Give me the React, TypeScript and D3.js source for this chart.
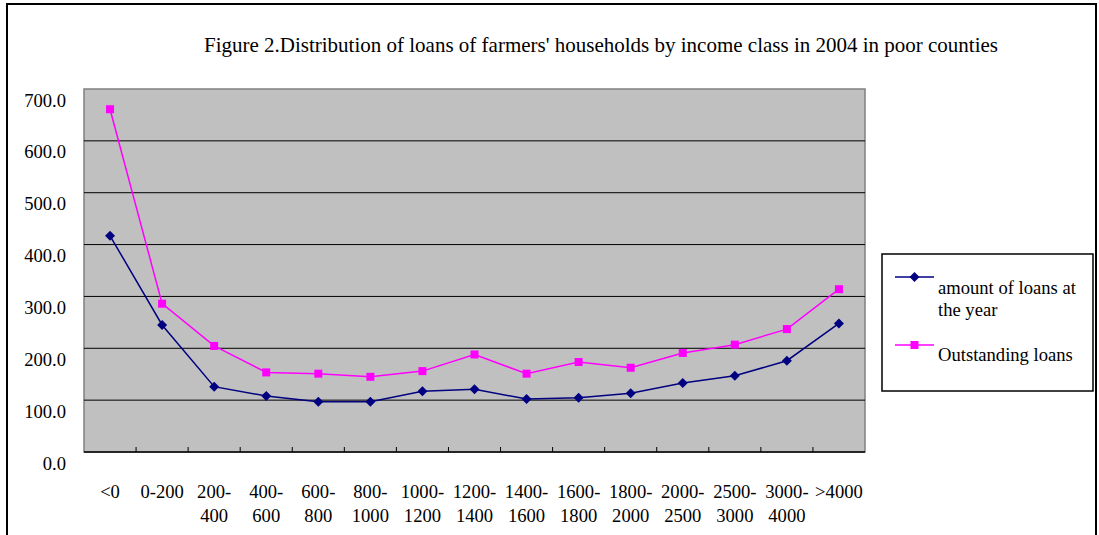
import * as d3 from "d3";

const categories = [
  ["<0"], ["0-200"], ["200-", "400"], ["400-", "600"], ["600-", "800"], ["800-", "1000"],
  ["1000-", "1200"], ["1200-", "1400"], ["1400-", "1600"], ["1600-", "1800"], ["1800-", "2000"],
  ["2000-", "2500"], ["2500-", "3000"], ["3000-", "4000"], [">4000"],
];
const amountOfLoans = [417, 245, 126, 108, 97, 97, 117, 121, 102, 104.5, 113.5, 133, 147, 176, 248];
const outstandingLoans = [661, 286, 204.5, 153.5, 151, 145, 156, 188, 151, 173.5, 162.5, 191, 207, 237, 314];
const yTicks = [0, 100, 200, 300, 400, 500, 600, 700];

const W = 1099;
const H = 535;
const plot = { left: 84, right: 865, top: 89, bottom: 452 };
const font = "'Liberation Serif', 'Times New Roman', serif";
const blue = "#000080";
const pink = "#ff00ff";
const labelSize = 18.6;

export default function App() {
  const x = d3
    .scaleBand<number>()
    .domain(d3.range(categories.length))
    .range([plot.left, plot.right]);
  const y = d3.scaleLinear().domain([0, 700]).range([plot.bottom, plot.top]);
  const cx = (i: number) => (x(i) ?? 0) + x.bandwidth() / 2;

  const line = d3
    .line<number>()
    .x((_, i) => cx(i))
    .y((d) => y(d));

  const diamond = (px: number, py: number, r: number) =>
    `M${px},${py - r}L${px + r},${py}L${px},${py + r}L${px - r},${py}Z`;

  return (
    <svg
      width={W}
      height={H}
      style={{ position: "absolute", left: 0, top: 0, background: "#fff" }}
      fontFamily={font}
    >
      <rect x={7} y={4} width={1089} height={H + 10} fill="#fff" stroke="#000" strokeWidth={2} />

      <text x={601} y={52} textAnchor="middle" fontSize={21}>
        Figure 2.Distribution of loans of farmers' households by income class in 2004 in poor counties
      </text>

      <rect
        x={plot.left}
        y={plot.top}
        width={plot.right - plot.left}
        height={plot.bottom - plot.top}
        fill="#c0c0c0"
        stroke="#808080"
        strokeWidth={1.5}
      />

      {yTicks.map((t) => (
        <g key={t}>
          {t > 0 && t < 700 && (
            <line x1={plot.left} x2={plot.right} y1={y(t)} y2={y(t)} stroke="#000" strokeWidth={1} />
          )}
          <text x={66} y={y(t) + 17.5} textAnchor="end" fontSize={labelSize}>
            {t.toFixed(1)}
          </text>
        </g>
      ))}

      <line x1={plot.left} x2={plot.right} y1={plot.bottom} y2={plot.bottom} stroke="#000" strokeWidth={1.5} />
      {d3.range(1, categories.length).map((i) => (
        <line
          key={i}
          x1={x(i)}
          x2={x(i)}
          y1={plot.bottom}
          y2={plot.bottom - 5}
          stroke="#000"
          strokeWidth={1}
        />
      ))}

      {categories.map((lines, i) =>
        lines.map((l, j) => (
          <text key={`${i}-${j}`} x={cx(i)} y={497.5 + j * 24} textAnchor="middle" fontSize={labelSize}>
            {l}
          </text>
        ))
      )}

      <path d={line(amountOfLoans) ?? ""} fill="none" stroke={blue} strokeWidth={1.5} />
      {amountOfLoans.map((d, i) => (
        <path key={i} d={diamond(cx(i), y(d), 5)} fill={blue} />
      ))}

      <path d={line(outstandingLoans) ?? ""} fill="none" stroke={pink} strokeWidth={1.5} />
      {outstandingLoans.map((d, i) => (
        <rect key={i} x={cx(i) - 4} y={y(d) - 4} width={8} height={8} fill={pink} />
      ))}

      <g>
        <rect x={882} y={254} width={211} height={137} fill="#fff" stroke="#000" strokeWidth={1.5} />
        <line x1={895} x2={934} y1={277} y2={277} stroke={blue} strokeWidth={1.5} />
        <path d={diamond(914.5, 277, 5)} fill={blue} />
        <text x={938} y={293.5} fontSize={labelSize}>amount of loans at</text>
        <text x={938} y={315.5} fontSize={labelSize}>the year</text>
        <line x1={895} x2={934} y1={345} y2={345} stroke={pink} strokeWidth={1.5} />
        <rect x={910.5} y={341} width={8} height={8} fill={pink} />
        <text x={938} y={361} fontSize={labelSize}>Outstanding loans</text>
      </g>
    </svg>
  );
}
